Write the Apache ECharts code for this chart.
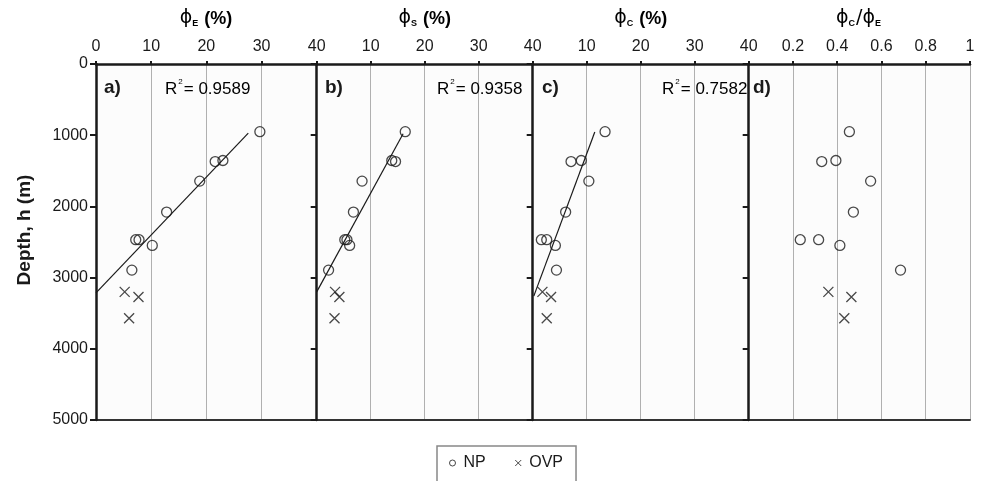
<!DOCTYPE html>
<html>
<head>
<meta charset="utf-8">
<script src="https://cdn.jsdelivr.net/npm/echarts@6/dist/echarts.min.js"></script>
<style>
html,body{margin:0;padding:0;background:#fff;}
#chart{width:982px;height:481px;}
</style>
</head>
<body>
<div id="chart"></div>
<script>
// ---- data ----
const DEPTH_NP  = [950, 1370, 1355, 1645, 2080, 2468, 2468, 2548, 2895];
const DEPTH_OVP = [3200, 3272, 3572];

const PHI_E_NP  = [29.7, 21.6, 23.0, 18.8, 12.8, 7.2, 7.8, 10.2, 6.5];
const PHI_E_OVP = [5.2, 7.7, 6.0];
const PHI_S_NP  = [16.4, 14.6, 13.9, 8.4, 6.8, 5.6, 5.2, 6.1, 2.2];
const PHI_S_OVP = [3.4, 4.2, 3.3];
const PHI_C_NP  = [13.4, 7.1, 9.0, 10.4, 6.1, 1.6, 2.6, 4.2, 4.4];
const PHI_C_OVP = [1.8, 3.4, 2.6];
const RATIO_NP  = [0.455, 0.33, 0.394, 0.551, 0.473, 0.233, 0.316, 0.412, 0.686];
const RATIO_OVP = [0.36, 0.464, 0.432];

// fitted trend lines: [x, depth] end points
const LINE_E = [[0, 3215], [27.6, 970]];
const LINE_S = [[0, 3200], [16.0, 980]];
const LINE_C = [[0.2, 3260], [11.5, 955]];

const R2_LABELS = ['0.9589', '0.9358', '0.7582'];
const PANEL_LABELS = ['a)', 'b)', 'c)', 'd)'];

// ---- layout ----
const TOP = 64, HEIGHT = 356;
const panels = [
  {left: 96,    width: 220.7, max: 40, interval: 10, np: PHI_E_NP, ovp: PHI_E_OVP, line: LINE_E},
  {left: 316.7, width: 216,   max: 40, interval: 10, np: PHI_S_NP, ovp: PHI_S_OVP, line: LINE_S},
  {left: 532.7, width: 216,   max: 40, interval: 10, np: PHI_C_NP, ovp: PHI_C_OVP, line: LINE_C},
  {left: 748.7, width: 221.3, max: 1,  interval: 0.2, np: RATIO_NP, ovp: RATIO_OVP, line: null}
];

const FONT = 'Liberation Sans, Arial, sans-serif';
const INK = '#1a1a1a';
const CROSS = 'path://M0,0L10,10M10,0L0,10';

const grid = [], xAxis = [], yAxis = [], series = [];
panels.forEach((p, i) => {
  grid.push({left: p.left, top: TOP, width: p.width, height: HEIGHT,
    show: true, backgroundColor: '#fcfcfc', borderWidth: 0});
  xAxis.push({
    type: 'value', gridIndex: i, position: 'top', min: 0, max: p.max, interval: p.interval,
    axisLine: {show: true, lineStyle: {color: INK, width: 2.5}},
    axisTick: {show: true, inside: false, length: 3, lineStyle: {color: INK, width: 2}},
    axisLabel: {show: true, showMinLabel: i === 0, fontFamily: FONT, fontSize: 16, color: INK, margin: 9,
      formatter: v => String(v)},
    splitLine: {show: true, lineStyle: {color: '#b0b0b0', width: 1}}
  });
  xAxis.push({
    type: 'value', gridIndex: i, position: 'bottom', min: 0, max: p.max, interval: p.interval,
    axisLine: {show: true, onZero: false, lineStyle: {color: '#333', width: 2}},
    axisTick: {show: false}, axisLabel: {show: false}, splitLine: {show: false}
  });
  yAxis.push({
    type: 'value', gridIndex: i, inverse: true, min: 0, max: 5000, interval: 1000,
    axisLine: {show: true, onZero: false, lineStyle: {color: INK, width: 2.5}},
    axisTick: {show: true, length: 6, lineStyle: {color: INK, width: 2}},
    axisLabel: {show: i === 0, fontFamily: FONT, fontSize: 16, color: INK, margin: 8,
      formatter: v => String(v)},
    splitLine: {show: false}, z: 3
  });
  series.push({
    name: 'NP', type: 'scatter', xAxisIndex: i * 2, yAxisIndex: i,
    data: p.np.map((v, k) => [v, DEPTH_NP[k]]),
    symbol: 'circle', symbolSize: 10,
    itemStyle: {color: 'rgba(255,255,255,0)', borderColor: INK, borderWidth: 1.3},
    z: 5
  });
  series.push({
    name: 'OVP', type: 'scatter', xAxisIndex: i * 2, yAxisIndex: i,
    data: p.ovp.map((v, k) => [v, DEPTH_OVP[k]]),
    symbol: CROSS, symbolSize: 10,
    itemStyle: {color: 'rgba(255,255,255,0)', borderColor: INK, borderWidth: 1.3},
    z: 5
  });
  if (p.line) {
    series.push({
      name: 'fit' + i, type: 'line', xAxisIndex: i * 2, yAxisIndex: i,
      data: p.line, symbol: 'none', lineStyle: {color: INK, width: 1.2}, z: 4, silent: true
    });
  }
});

function titleText(sym, unit) {
  return '{phi|ϕ}{sub|' + sym + '}{b|' + unit + '}';
}
const titleRich = {
  phi: {fontFamily: 'DejaVu Sans', fontSize: 19, fontWeight: 'normal', color: INK, verticalAlign: 'bottom', lineHeight: 22},
  sub: {fontFamily: FONT, fontSize: 9, fontWeight: 'bold', color: INK, verticalAlign: 'bottom', lineHeight: 12, padding: [0, 1, 0, 0]},
  b: {fontFamily: FONT, fontSize: 18, fontWeight: 'bold', color: INK, verticalAlign: 'bottom', lineHeight: 22}
};

const graphic = [];
const titleCenters = [206, 424.7, 640.7];
const titleSyms = ['E', 'S', 'C'];
titleCenters.forEach((cx, i) => {
  graphic.push({type: 'text', x: cx, y: 17, style: {
    text: titleText(titleSyms[i], ' (%)'), rich: titleRich,
    align: 'center', verticalAlign: 'middle'}});
});
graphic.push({type: 'text', x: 859, y: 17, style: {
  text: '{phi|ϕ}{sub|C}{phi|/ϕ}{sub|E}', rich: titleRich,
  align: 'center', verticalAlign: 'middle'}});

// y axis title
graphic.push({type: 'text', x: 25, y: 230, rotation: Math.PI / 2, style: {
  text: 'Depth, h (m)', fontFamily: FONT, fontSize: 19, fontWeight: 'bold', fill: INK,
  align: 'center', verticalAlign: 'middle'}});

// panel labels
const panelLabelX = [104, 325, 542, 753];
PANEL_LABELS.forEach((t, i) => {
  graphic.push({type: 'text', x: panelLabelX[i], y: 88, z: 10, style: {
    text: t, fontFamily: FONT, fontSize: 19, fontWeight: 'bold', fill: INK,
    align: 'left', verticalAlign: 'middle'}});
});

// R^2 labels
const r2X = [165, 437, 662];
R2_LABELS.forEach((t, i) => {
  graphic.push({type: 'text', x: r2X[i], y: 88, z: 10, style: {
    text: '{r|R}{s|2}{r|= ' + t + '}',
    rich: {
      r: {fontFamily: FONT, fontSize: 17, color: INK, verticalAlign: 'bottom', lineHeight: 20},
      s: {fontFamily: FONT, fontSize: 8, color: INK, verticalAlign: 'top', lineHeight: 20, padding: [0, 1, 0, 1]}
    },
    align: 'left', verticalAlign: 'middle'}});
});

const chart = echarts.init(document.getElementById('chart'), null, {renderer: 'canvas'});
chart.setOption({
  animation: false,
  backgroundColor: '#ffffff',
  grid, xAxis, yAxis, series, graphic,
  legend: {
    data: [
      {name: 'NP', icon: 'circle', itemStyle: {color: 'rgba(255,255,255,0)', borderColor: INK, borderWidth: 1}},
      {name: 'OVP', icon: CROSS, itemStyle: {color: 'rgba(255,255,255,0)', borderColor: INK, borderWidth: 1}}
    ],
    left: 437, top: 446,
    itemWidth: 6, itemHeight: 6, itemGap: 29,
    borderColor: '#888', borderWidth: 1.5, padding: [9, 13, 16, 12],
    textStyle: {fontFamily: FONT, fontSize: 16, color: INK, padding: [0, 0, 0, 3]}
  }
});
</script>
</body>
</html>
